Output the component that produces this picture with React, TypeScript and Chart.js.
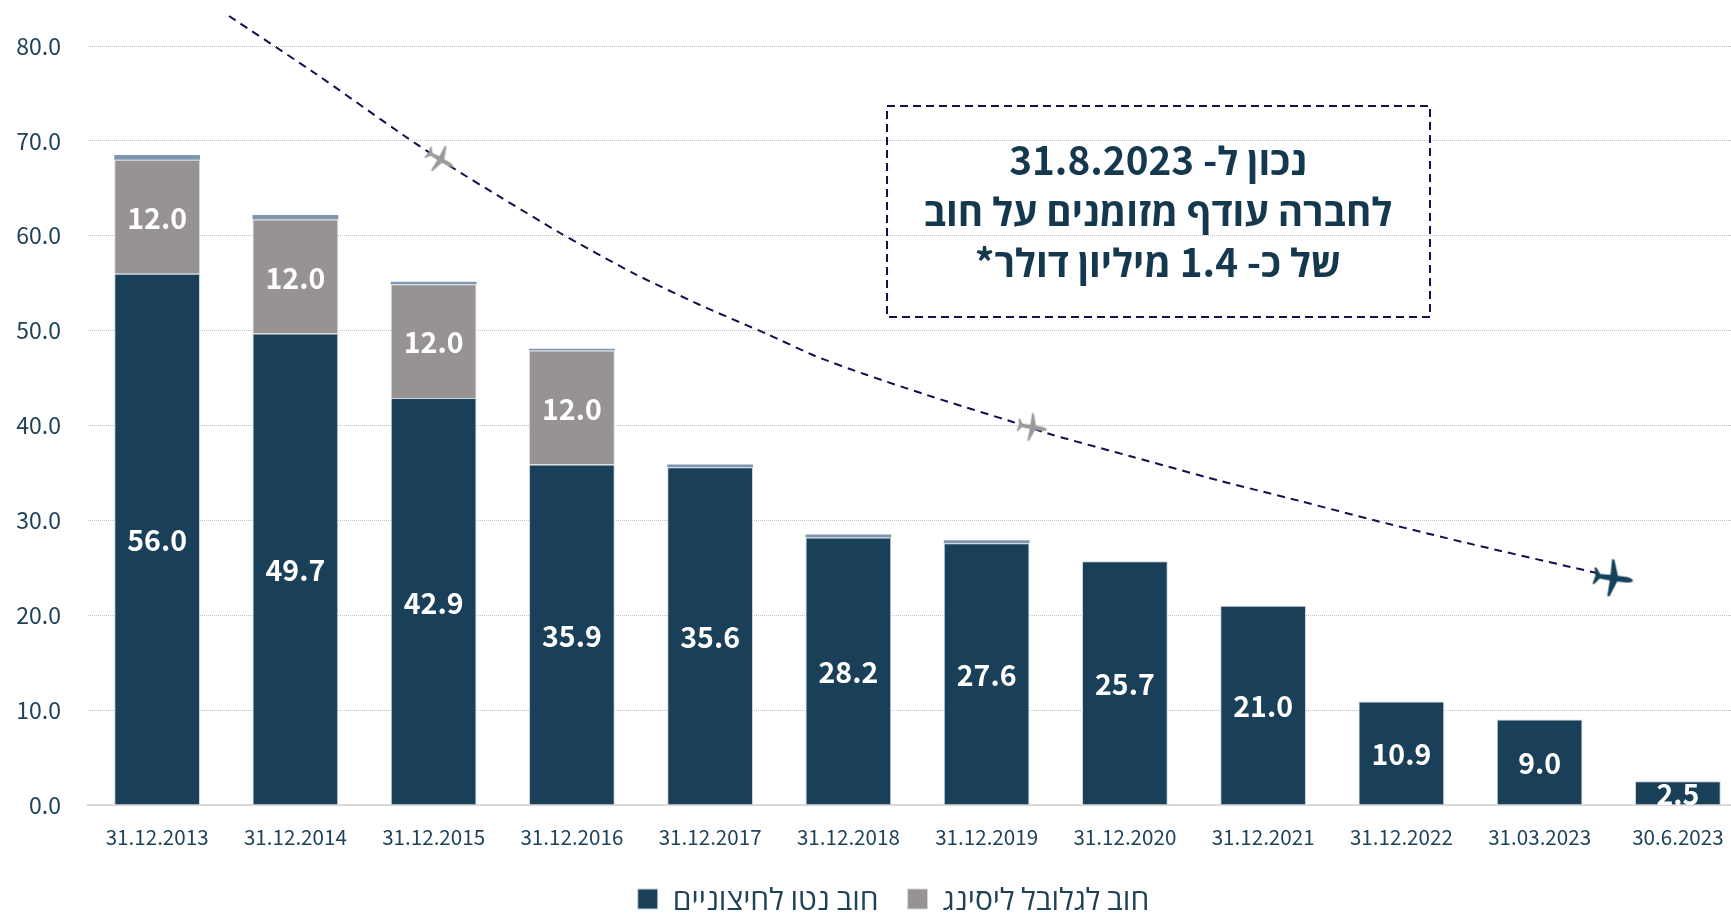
import React, { useEffect, useRef } from "react";
import { Chart, registerables } from "chart.js";

Chart.register(...registerables);

const categories = ["31.12.2013","31.12.2014","31.12.2015","31.12.2016","31.12.2017","31.12.2018","31.12.2019","31.12.2020","31.12.2021","31.12.2022","31.03.2023","30.6.2023"];
const netDebt = [56.0,49.7,42.9,35.9,35.6,28.2,27.6,25.7,21.0,10.9,9.0,2.5];
const leasing = [12.0,12.0,12.0,12.0,0,0,0,0,0,0,0,0];
const other = [0.5,0.5,0.25,0.2,0.3,0.3,0.3,0,0,0,0,0];
const yTicks = [0,10,20,30,40,50,60,70,80];
const pathX = [0.52,1.15,1.779,2.14,2.481,2.915,3.443,3.927,4.412,4.759,5.135,5.612,6.19,6.48,7.06,7.667,8.267,8.824,9.475,10.415];
const pathY = [83.16,77.05,70.62,67.14,64.09,60.29,56.07,52.7,49.64,47.33,45.32,43.0,40.37,39.0,36.68,34.25,32.04,29.93,27.61,24.45];
const planeX = [2.047,6.329,10.53];
const planeY = [68.07,39.83,23.92];
const planeColors = ["#9a9a9a","#9a9a9a","#14425a"];
const planeRot = [0.52,0.17,0.13];
const planeSize = [31,31,41];
const boxLines = ["נכון ל- 31.8.2023","לחברה עודף מזומנים על חוב","של כ- 1.4 מיליון דולר*"];

const FONT = '"Noto Sans CJK JP","Open Sans",sans-serif';
const NAVY = "#1a4059";
const GREY = "#979393";
const TEXT = "#1f4258";

function planeImage(color: string, rot: number, size: number) {
  const c = document.createElement("canvas");
  c.width = size + 8; c.height = size + 8;
  const g = c.getContext("2d")!;
  g.translate(c.width/2, c.height/2);
  g.rotate(rot);
  g.scale(size/44, size/44);
  g.fillStyle = color;
  g.beginPath();
  g.moveTo(22,0);
  g.quadraticCurveTo(20,-2.6,15,-3);
  g.lineTo(5,-3);
  g.lineTo(-1,-20);
  g.lineTo(-3.5,-20);
  g.lineTo(-3,-3);
  g.lineTo(-14,-2.4);
  g.lineTo(-19,-9);
  g.lineTo(-21,-9);
  g.lineTo(-19,0);
  g.lineTo(-21,9);
  g.lineTo(-19,9);
  g.lineTo(-14,2.4);
  g.lineTo(-3,3);
  g.lineTo(-3.5,20);
  g.lineTo(-1,20);
  g.lineTo(5,3);
  g.lineTo(15,3);
  g.quadraticCurveTo(20,2.6,22,0);
  g.fill();
  return c;
}

const toPoints = (values: number[]) => values.map((y, x) => ({ x, y }));

export default function App() {
  const ref = useRef<HTMLCanvasElement>(null);
  useEffect(() => {
    document.body.style.margin = "0";
    document.body.style.overflow = "hidden";
    const legendShift = {
      id: "legendShift",
      afterLayout(chart: any) {
        chart.legend.left += 20;
        chart.legend.right += 20;
      },
    };
    const barLabels = {
      id: "barLabels",
      afterDatasetsDraw(chart: any) {
        const ctx = chart.ctx;
        ctx.save();
        ctx.fillStyle = "#fff";
        ctx.font = `bold 28.5px ${FONT}`;
        ctx.textAlign = "center";
        ctx.textBaseline = "middle";
        [0,1].forEach((di) => {
          const meta = chart.getDatasetMeta(di);
          meta.data.forEach((b: any, i: number) => {
            const v = (chart.data.datasets[di].data[i] as any).y as number;
            if (!v) return;
            ctx.fillText(v.toFixed(1), b.x, (b.y + b.base)/2 + 1.5);
          });
        });
        ctx.restore();
      },
    };
    const noteBox = {
      id: "noteBox",
      afterDraw(chart: any) {
        const ctx = chart.ctx;
        ctx.save();
        ctx.strokeStyle = "#1f0a50";
        ctx.lineWidth = 2;
        ctx.setLineDash([8,5]);
        ctx.strokeRect(887,106,543,211);
        ctx.setLineDash([]);
        ctx.fillStyle = "#14394f";
        ctx.font = `bold 38.7px ${FONT}`;
        ctx.direction = "rtl";
        ctx.textAlign = "center";
        ctx.textBaseline = "middle";
        boxLines.forEach((t, i) => ctx.fillText(t, 1158, 160 + i*51));
        ctx.restore();
      },
    };
    const barCommon = { stack: "debt", barPercentage: 0.62, categoryPercentage: 1, order: 3 };
    const chart = new Chart(ref.current!, {
      data: {
        datasets: [
          { type: "bar", label: "חוב נטו לחיצוניים", data: toPoints(netDebt), backgroundColor: NAVY, borderColor: "#c9d3da", borderWidth: 1, ...barCommon },
          { type: "bar", label: "חוב לגלובל ליסינג", data: toPoints(leasing), backgroundColor: GREY, borderColor: "#d6d6d6", borderWidth: 1, ...barCommon },
          { type: "bar", label: "אחר", data: toPoints(other), backgroundColor: "#7f96b2", ...barCommon },
          { type: "scatter", label: "path", data: pathX.map((x,i)=>({x,y:pathY[i]})), showLine: true, borderColor: "#1f0a50", borderWidth: 2, borderDash: [8,6], pointRadius: 0, tension: 0.2, clip: false, stack: "path", order: 2 },
          { type: "scatter", label: "planes", data: planeX.map((x,i)=>({x,y:planeY[i]})), showLine: false, pointStyle: planeColors.map((c,i)=>planeImage(c,planeRot[i],planeSize[i])), clip: false, stack: "planes", order: 1 },
        ] as any,
      },
      options: {
        animation: false,
        responsive: false,
        layout: { padding: { top: 46, right: 77, left: 0, bottom: 0 } },
        plugins: {
          tooltip: { enabled: false },
          legend: {
            position: "bottom",
            textDirection: "rtl",
            labels: {
              color: TEXT,
              font: { family: FONT, size: 30 },
              boxWidth: 20, boxHeight: 20, padding: 29,
              filter: (it: any) => it.datasetIndex < 2,
            },
          } as any,
        },
        scales: {
          x: {
            type: "linear",
            min: -0.5, max: 11.5,
            offset: false,
            stacked: true,
            afterBuildTicks: (s: any) => { s.ticks = categories.map((_, value) => ({ value })); },
            grid: { display: false, drawTicks: false, offset: false },
            border: { color: "#d9d9d9", width: 2 },
            ticks: { color: TEXT, font: { family: FONT, size: 20.6 }, padding: 20, maxRotation: 0, autoSkip: false, callback: (v: any) => categories[v] },
            afterFit: (s: any) => { s.height = 50; },
          },
          y: {
            stacked: true,
            min: 0, max: 80,
            afterBuildTicks: (s: any) => { s.ticks = yTicks.map((value) => ({ value })); },
            grid: { color: "#c4c4c4", lineWidth: 1, drawTicks: false },
            border: { display: false, dash: [1,1] },
            ticks: { color: TEXT, font: { family: FONT, size: 23 }, padding: 27, callback: (v: any) => Number(v).toFixed(1) },
            afterFit: (s: any) => { s.width = 88; },
          },
        },
      },
      plugins: [legendShift, barLabels, noteBox],
    } as any);
    return () => chart.destroy();
  }, []);
  return (
    <div style={{ width: 1731, height: 913, overflow: "hidden" }}>
      <canvas ref={ref} width={1824} height={924} style={{ display: "block" }} />
    </div>
  );
}
